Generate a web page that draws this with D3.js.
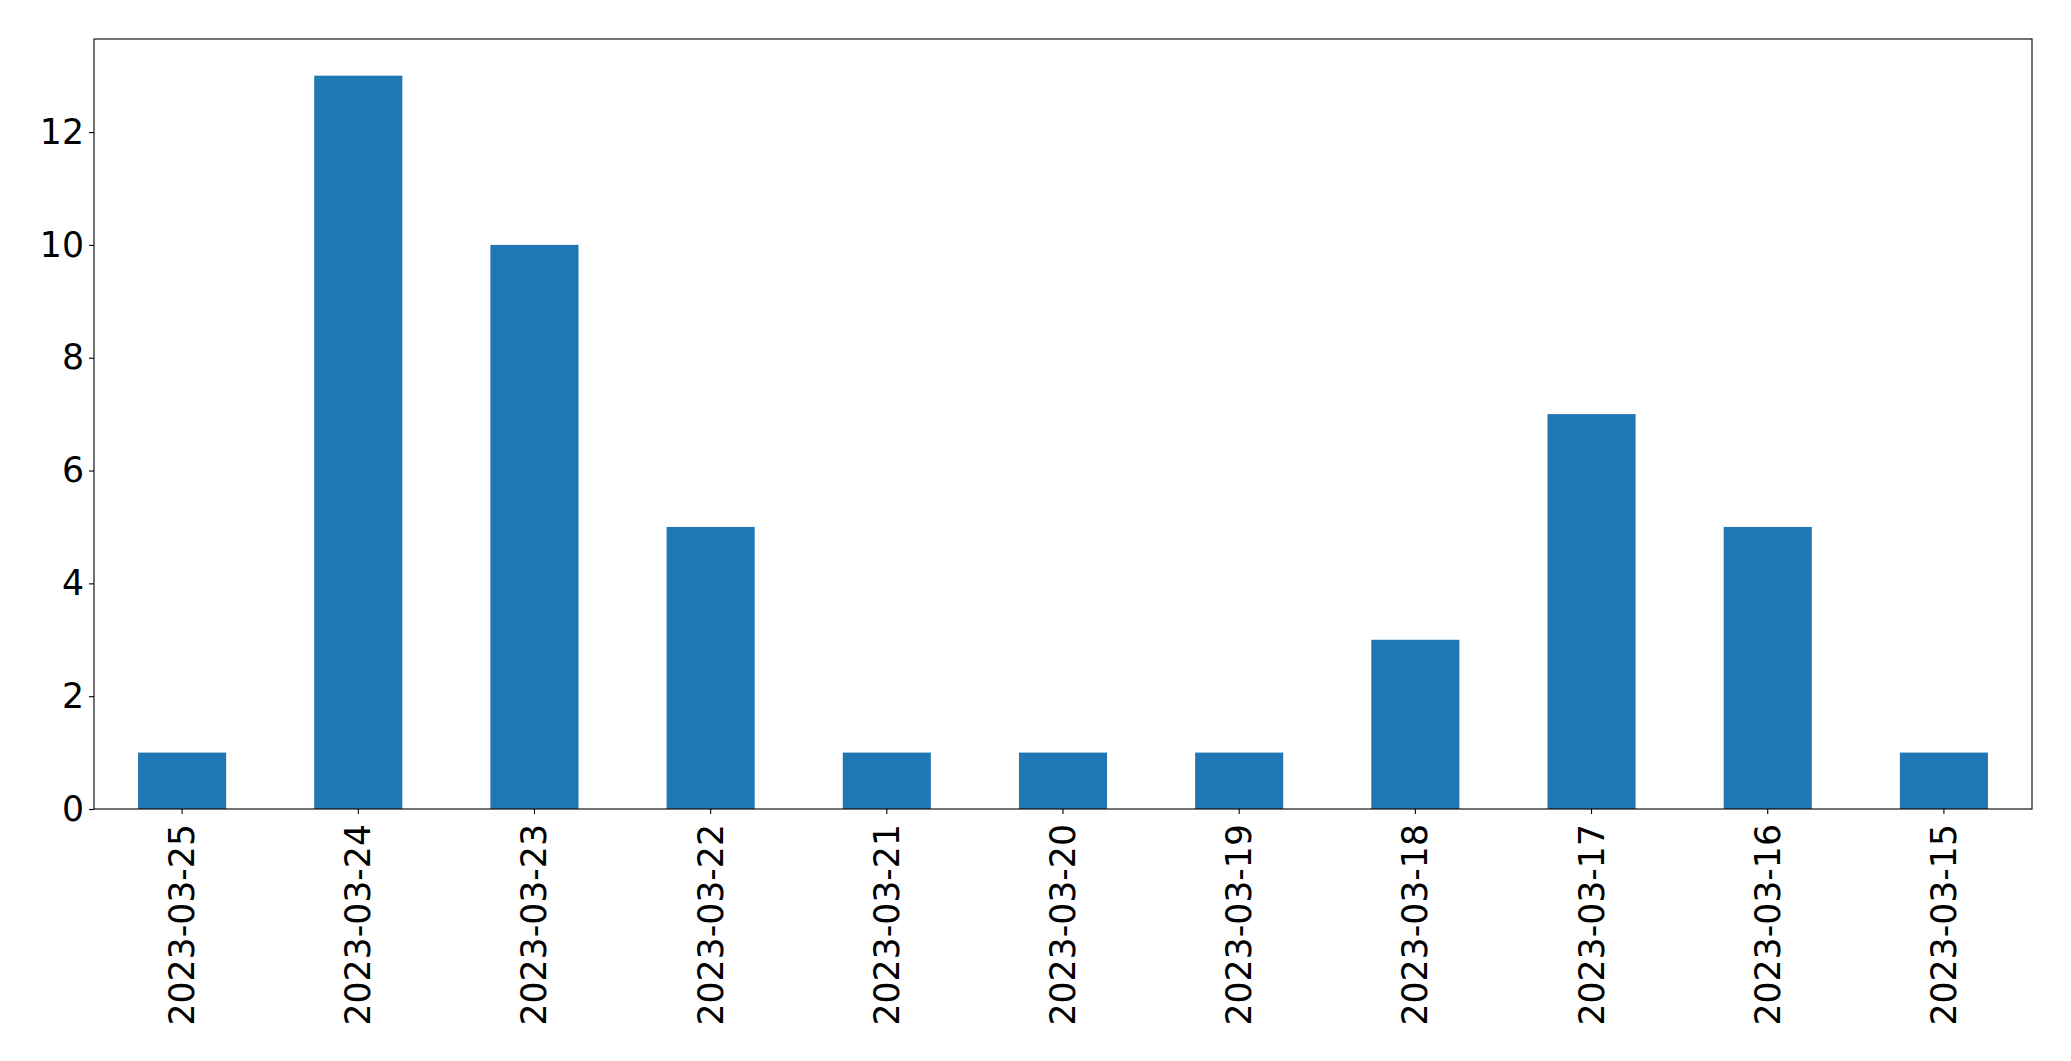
<!DOCTYPE html>
<html>
<head>
<meta charset="utf-8">
<script src="https://cdn.jsdelivr.net/npm/d3@7"></script>
<style>
  html, body { margin: 0; padding: 0; background: #fff; }
  svg { display: block; }
</style>
</head>
<body>
<script>
const categories = ["2023-03-25","2023-03-24","2023-03-23","2023-03-22","2023-03-21","2023-03-20","2023-03-19","2023-03-18","2023-03-17","2023-03-16","2023-03-15"];
const values = [1, 13, 10, 5, 1, 1, 1, 3, 7, 5, 1];
const yTicks = [0, 2, 4, 6, 8, 10, 12];

const W = 2071, H = 1061;
const m = { left: 94, right: 2032, top: 39, bottom: 809 };
const fontSize = 34.7;
const fontFamily = "'DejaVu Sans', sans-serif";

const svg = d3.select("body").append("svg").attr("width", W).attr("height", H);

const x = d3.scaleBand().domain(categories).range([m.left, m.right]).paddingInner(0.5).paddingOuter(0.25);
const y = d3.scaleLinear().domain([0, d3.max(values) * 1.05]).range([m.bottom, m.top]);

svg.append("g").selectAll("rect").data(values).join("rect")
  .attr("x", (d, i) => x(categories[i]))
  .attr("y", d => y(d))
  .attr("width", x.bandwidth())
  .attr("height", d => y(0) - y(d))
  .attr("fill", "#1f77b4");

const yAxis = svg.append("g").attr("transform", `translate(${m.left},0)`)
  .call(d3.axisLeft(y).tickValues(yTicks).tickSize(5).tickPadding(5).tickFormat(d3.format("d")));
yAxis.select(".domain").remove();
yAxis.selectAll("text").attr("font-size", fontSize).attr("font-family", fontFamily).attr("fill", "#000");
yAxis.selectAll("line").attr("stroke", "#000").attr("stroke-width", 1.1);

const xAxis = svg.append("g").attr("transform", `translate(0,${m.bottom})`)
  .call(d3.axisBottom(x).tickSize(5).tickPadding(0));
xAxis.select(".domain").remove();
xAxis.selectAll("line").attr("stroke", "#000").attr("stroke-width", 1.1);
xAxis.selectAll("text")
  .attr("font-size", fontSize).attr("font-family", fontFamily).attr("fill", "#000")
  .attr("text-anchor", "end")
  .attr("dy", null)
  .attr("y", 0)
  .attr("transform", "translate(0,15) rotate(-90)")
  .attr("dominant-baseline", "central");

svg.append("rect")
  .attr("x", m.left).attr("y", m.top)
  .attr("width", m.right - m.left).attr("height", m.bottom - m.top)
  .attr("fill", "none").attr("stroke", "#000").attr("stroke-width", 1.1);
</script>
</body>
</html>
